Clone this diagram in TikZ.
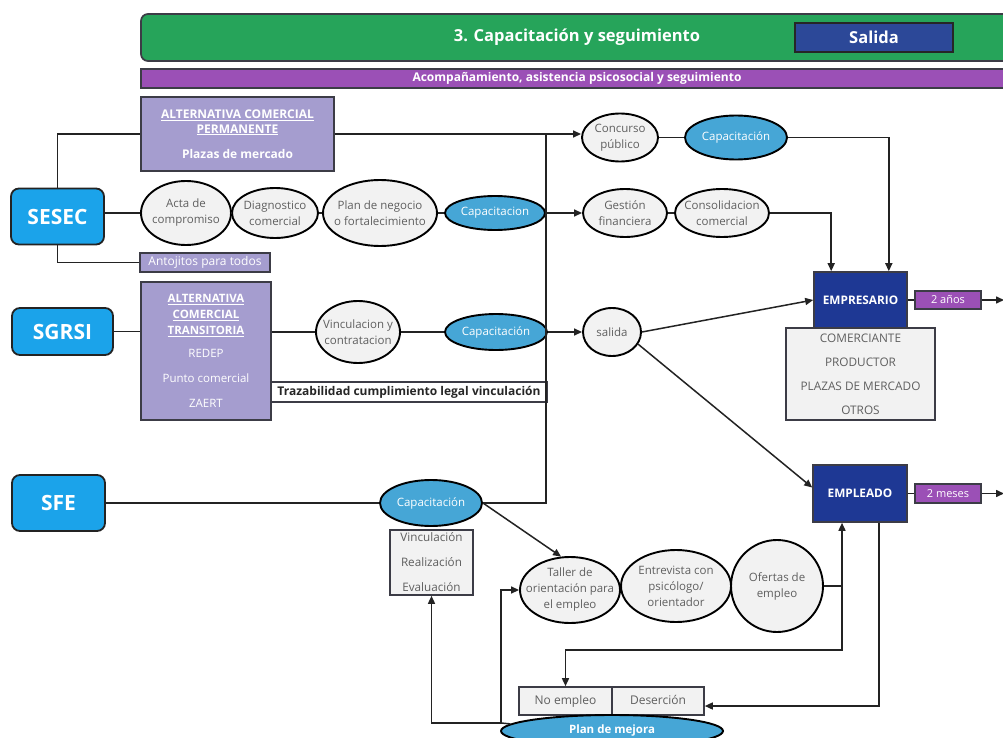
\documentclass[tikz,border=0pt]{standalone}
\usepackage{fontspec}
\setmainfont{Open Sans}
\usetikzlibrary{shapes.geometric,arrows.meta,calc}

\definecolor{hdrgreen}{RGB}{38,164,90}
\definecolor{purp}{RGB}{155,80,182}
\definecolor{lavender}{RGB}{165,157,207}
\definecolor{srcblue}{RGB}{27,163,234}
\definecolor{capblue}{RGB}{70,166,214}
\definecolor{navy}{RGB}{30,56,148}
\definecolor{exitblue}{RGB}{44,72,152}
\definecolor{ovalfill}{RGB}{242,242,242}
\definecolor{txtgray}{RGB}{95,95,95}
\definecolor{linec}{RGB}{35,35,35}
\definecolor{boxedge}{RGB}{60,60,70}

\begin{document}
\begin{tikzpicture}[x=1pt, y=-1pt,
  conn/.style={draw=linec, line width=1.5pt},
  arr/.style={conn, -{Triangle[length=8pt,width=7pt]}},
  ovalbase/.style={ellipse, draw=black, line width=1.9pt, inner sep=0pt},
  oval/.style={ovalbase, fill=ovalfill},
  capa/.style={ovalbase, fill=capblue},
  ovtext/.style={align=center, text=txtgray, inner sep=0pt, font=\fontsize{11.5}{16}\selectfont},
  captext/.style={align=center, text=white, inner sep=0pt, font=\fontsize{11.5}{13}\selectfont},
  srcbox/.style={rectangle, rounded corners=8pt, draw=linec, line width=1.8pt, fill=srcblue, text=white, font=\fontsize{21}{24}\selectfont\bfseries},
  lavbox/.style={rectangle, draw=boxedge, line width=1.7pt, fill=lavender, text=white, align=center, inner sep=0pt},
  graybox/.style={rectangle, draw=boxedge, line width=1.6pt, fill=ovalfill, text=txtgray, align=center, inner sep=0pt},
  navybox/.style={rectangle, draw=boxedge, line width=1.6pt, fill=navy, text=white, font=\fontsize{11.8}{13}\selectfont\bfseries},
  tagbox/.style={rectangle, draw=boxedge, line width=1.4pt, fill=purp, text=white, inner sep=0pt, font=\fontsize{11}{12}\selectfont},
  oneline/.style={text height=8.5pt, text depth=2.5pt},
]
\useasboundingbox (0,0) rectangle (1003,738);
\fill[white] (0,0) rectangle (1003,738);
\clip (0,0) rectangle (1003,738);

% ---------- header bands ----------
\node[rectangle, rounded corners=7pt, draw=boxedge, line width=1.7pt, fill=hdrgreen,
      minimum width=872pt, minimum height=47pt, text=white,
      font=\fontsize{16.5}{19}\selectfont\bfseries] (hdr) at (577,37.5) {3. Capacitación y seguimiento};
\node[rectangle, draw=black!85, line width=1.7pt, fill=exitblue, minimum width=158pt, minimum height=29pt,
      text=white, font=\fontsize{16.5}{19}\selectfont\bfseries] (exitbox) at (874,37.5) {Salida};
\node[rectangle, draw=boxedge, line width=1.4pt, fill=purp, minimum width=872pt, minimum height=19pt,
      inner sep=0pt, text=white, font=\fontsize{12}{13}\selectfont\bfseries] (acomp) at (577,78.5)
      {Acompañamiento, asistencia psicosocial y seguimiento};

% ---------- entry programmes ----------
\node[srcbox, minimum width=93pt, minimum height=56pt] (sesec) at (57.5,216.5) {SESEC};
\node[srcbox, minimum width=101pt, minimum height=47pt] (sgrsi) at (62.5,331.5) {SGRSI};
\node[srcbox, minimum width=93pt, minimum height=56pt] (sfe) at (58.5,503) {SFE};

% ---------- commercial alternatives ----------
\node[lavbox, minimum width=193pt, minimum height=74pt, font=\fontsize{12}{15}\selectfont\bfseries] (altP) at (237.5,134)
  {\underline{ALTERNATIVA COMERCIAL}\\\underline{PERMANENTE}\\[10pt]Plazas de mercado};
\node[lavbox, minimum width=130pt, minimum height=19pt, font=\fontsize{12}{13}\selectfont] (antoj) at (205,262.5) {Antojitos para todos};
\node[lavbox, minimum width=130pt, minimum height=138pt, font=\fontsize{11.5}{16}\selectfont] (altT) at (206,351)
  {{\bfseries\underline{ALTERNATIVA}}\\{\bfseries\underline{COMERCIAL}}\\{\bfseries\underline{TRANSITORIA}}\\[7pt]REDEP\\[9pt]Punto comercial\\[9pt]ZAERT};
\node[rectangle, draw=boxedge, line width=1.6pt, fill=white, minimum width=276pt, minimum height=20pt, inner sep=0pt,
      text=black!85, font=\fontsize{12}{13}\selectfont\bfseries] (traz) at (409,392) {Trazabilidad cumplimiento legal vinculación};

% ---------- SESEC route ----------
\node[oval, minimum width=90pt, minimum height=64pt, label={[ovtext]center:Acta de\\compromiso}] (acta) at (186,213) {};
\node[oval, minimum width=86pt, minimum height=50pt, label={[ovtext]center:Diagnostico\\comercial}] (diag) at (275,213) {};
\node[oval, minimum width=114pt, minimum height=66pt, label={[ovtext]center:Plan de negocio\\o fortalecimiento}] (plan) at (380,213) {};
\node[capa, minimum width=100pt, minimum height=34pt, label={[captext]center:Capacitacion}] (capA) at (495,213) {};
\node[oval, minimum width=76pt, minimum height=48pt, label={[ovtext]center:Concurso\\público}] (conc) at (620,137.5) {};
\node[capa, minimum width=102pt, minimum height=44pt, label={[captext]center:Capacitación}] (capB) at (736,137.5) {};
\node[oval, minimum width=84pt, minimum height=48pt, label={[ovtext]center:Gestión\\financiera}] (gest) at (625,213) {};
\node[oval, minimum width=94pt, minimum height=48pt, label={[ovtext]center:Consolidacion\\comercial}] (cons) at (722,213) {};

% ---------- SGRSI route ----------
\node[oval, minimum width=84pt, minimum height=62pt, label={[ovtext]center:Vinculacion y\\contratacion}] (vinc) at (358,332) {};
\node[capa, minimum width=102pt, minimum height=36pt, label={[captext]center:Capacitación}] (capC) at (496,332) {};
\node[oval, minimum width=58pt, minimum height=48pt, label={[ovtext]center:salida}] (sal) at (612,332) {};

% ---------- outcomes ----------
\node[navybox, minimum width=93pt, minimum height=56pt] (empr) at (860.5,300) {EMPRESARIO};
\node[graybox, minimum width=149pt, minimum height=92pt, font=\fontsize{11.8}{24}\selectfont] (emplist) at (860.5,374)
  {COMERCIANTE\\PRODUCTOR\\PLAZAS DE MERCADO\\OTROS};
\node[tagbox, minimum width=66pt, minimum height=18pt] (r2a) at (948,300) {2 años};
\node[navybox, minimum width=94pt, minimum height=57pt] (empl) at (860,493.5) {EMPLEADO};
\node[tagbox, minimum width=66pt, minimum height=19pt] (r2m) at (948,493.5) {2 meses};

% ---------- SFE route ----------
\node[graybox, minimum width=83pt, minimum height=65pt, font=\fontsize{11.7}{25}\selectfont] (sfelist) at (431.5,562.5)
  {Vinculación\\Realización\\Evaluación};
\node[capa, minimum width=102pt, minimum height=46pt, label={[captext]center:Capacitación}] (capD) at (431,503) {};
\node[oval, minimum width=100pt, minimum height=66pt, label={[ovtext]center:Taller de\\orientación para\\el empleo}] (taller) at (570,590) {};
\node[oval, minimum width=110pt, minimum height=72pt, label={[ovtext]center:Entrevista con\\psicólogo/\\orientador}] (entre) at (676,586) {};
\node[oval, minimum width=92pt, minimum height=92pt, label={[ovtext]center:Ofertas de\\empleo}] (ofer) at (777,586) {};
\node[graybox, oneline, minimum width=93pt, minimum height=28pt, font=\fontsize{12}{13}\selectfont] (noemp) at (565.5,701) {No empleo};
\node[graybox, oneline, minimum width=92pt, minimum height=28pt, font=\fontsize{12}{13}\selectfont] (deser) at (658,701) {Deserción};
\node[capa, minimum width=222pt, minimum height=32pt,
      label={[captext, font=\fontsize{11.5}{13}\selectfont\bfseries]center:Plan de mejora}] (mejora) at (612,731) {};

% ---------- connectors ----------
\draw[conn] (sesec.north) |- (altP.west);
\draw[conn] (sesec.south) |- (antoj.west);
\draw[conn] (sesec.east |- acta.west) -- (acta.west);
\draw[conn] (acta.east) -- (diag.west);
\draw[conn] (diag.east) -- (plan.west);
\draw[conn] (plan.east) -- (capA.west);
\draw[arr] (altP.east) -- (altP.east -| conc.west);
\draw[arr] (capA.east) -- (gest.west);
\draw[conn] (conc.east) -- (capB.west);
\draw[conn] (gest.east) -- (cons.west);
\draw[arr] (capB.east) -| ([xshift=-19pt]empr.north east);
\draw[arr] (cons.east) -| ([xshift=18pt]empr.north west);

\coordinate (jtop) at (546,134);
\draw[conn] (capD.east) -| (jtop);

\draw[conn] (sgrsi.east) -- (sgrsi.east -| altT.west);
\draw[conn] (altT.east |- vinc.west) -- (vinc.west);
\draw[conn] (vinc.east) -- (capC.west);
\draw[arr] (capC.east) -- (sal.west);
\draw[arr] (sal.east) -- (empr.west);
\draw[arr] (sal.-25) -- ([yshift=6pt]empl.west);

\coordinate (endA) at (1004,300);
\coordinate (endM) at (1004,493.5);
\draw[conn] (empr.east) -- (r2a.west);
\draw[arr] (r2a.east) -- (endA);
\draw[conn] (empl.east) -- (r2m.west);
\draw[arr] (r2m.east) -- (endM);

\draw[conn] (sfe.east) -- (capD.west);
\draw[arr] (capD.east) -- (taller.105);
\coordinate (jo) at (842,586);
\draw[conn] (ofer.east) -- (jo);
\draw[arr] (jo) -- (jo |- empl.south);
\draw[arr] (jo) -- ++(0,64) -| (noemp.north);
\draw[arr] ([xshift=-29pt]empl.south east) |- ([yshift=-5pt]deser.east);

\coordinate (mj) at (501,723);
\draw[conn] (mejora.176) -- (mj);
\draw[arr] (mj) -| (sfelist.south);
\draw[arr] (mj) |- (taller.west);
\end{tikzpicture}
\end{document}
